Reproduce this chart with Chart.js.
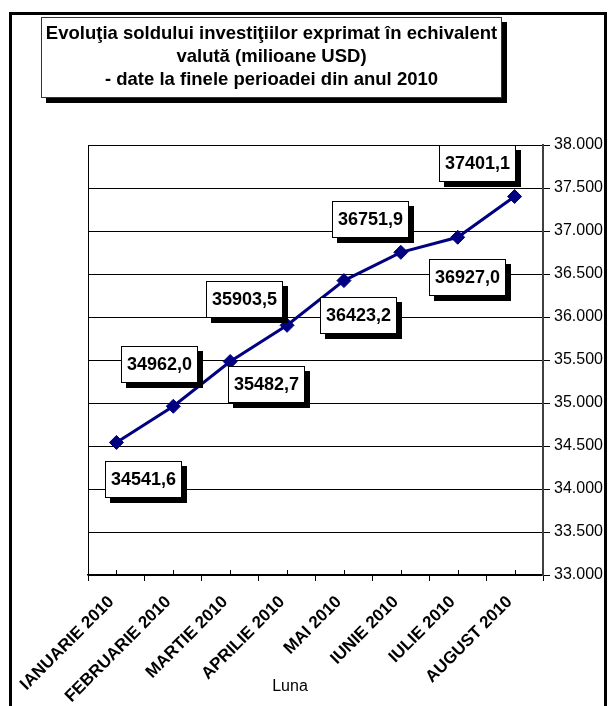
<!DOCTYPE html>
<html>
<head>
<meta charset="utf-8">
<title>Evolutia soldului investitiilor</title>
<script src="https://cdn.jsdelivr.net/npm/chart.js@4/dist/chart.umd.min.js"></script>
<style>
  html, body { margin: 0; padding: 0; background: #fff; }
  #wrap { width: 608px; height: 706px; }
</style>
</head>
<body>
<div id="wrap"><canvas id="soldChart" width="608" height="706"></canvas></div>
<script>
// Date grafic
const luni = ['IANUARIE 2010', 'FEBRUARIE 2010', 'MARTIE 2010', 'APRILIE 2010',
              'MAI 2010', 'IUNIE 2010', 'IULIE 2010', 'AUGUST 2010'];
const soldInvestitii = [34541.6, 34962.0, 35482.7, 35903.5, 36423.2, 36751.9, 36927.0, 37401.1];
const yTicks = [33000, 33500, 34000, 34500, 35000, 35500, 36000, 36500, 37000, 37500, 38000];
const titleLines = [
    'Evoluţia soldului investiţiilor exprimat în echivalent',
    'valută (milioane USD)',
    '- date la finele perioadei din anul 2010'
];
const xAxisTitle = 'Luna';

// pozitia casutelor cu valori fata de punct (dx, dy)
const labelOffsets = [[27, 37], [-14, -42], [36, 23], [-43, -26], [15, 35], [-30, -33], [10, 40], [-37, -33]];

const FONT = 'Arial, "Liberation Sans", sans-serif';

function formatThousands(v) {
    return String(v).replace(/\B(?=(\d{3})+(?!\d))/g, '.');
}

function formatValue(v) {
    return v.toFixed(1).replace('.', ',');
}

// rama exterioara + fundal
const framePlugin = {
    id: 'frame',
    beforeDraw(chart) {
        const ctx = chart.ctx;
        ctx.save();
        ctx.fillStyle = '#fff';
        ctx.fillRect(0, 0, chart.width, chart.height);
        ctx.strokeStyle = '#000';
        ctx.lineWidth = 3;
        ctx.strokeRect(10.5, 13.5, 595, 760);
        ctx.restore();
    },
    afterDraw(chart) {
        const ctx = chart.ctx;
        const area = chart.chartArea;
        const xScale = chart.scales.x;
        ctx.save();
        // linia din stanga a zonei de grafic
        ctx.strokeStyle = '#000';
        ctx.lineWidth = 1;
        ctx.beginPath();
        ctx.moveTo(area.left + 0.5, area.top);
        ctx.lineTo(area.left + 0.5, area.bottom);
        ctx.stroke();
        // gradatii mici in sus la mijlocul categoriilor
        luni.forEach((l, i) => {
            const x = Math.round(xScale.getPixelForValue(i)) + 0.5;
            ctx.beginPath();
            ctx.moveTo(x, area.bottom - 5);
            ctx.lineTo(x, area.bottom);
            ctx.stroke();
        });
        // titlul axei X
        ctx.fillStyle = '#000';
        ctx.font = '16px ' + FONT;
        ctx.textAlign = 'center';
        ctx.textBaseline = 'middle';
        ctx.fillText(xAxisTitle, 290, 687);

        // caseta titlului cu umbra
        const bx = 41, by = 17, bw = 461, bh = 81;
        ctx.fillStyle = '#000';
        ctx.fillRect(bx + 5, by + 5, bw, bh);
        ctx.fillStyle = '#fff';
        ctx.fillRect(bx, by, bw, bh);
        ctx.strokeStyle = '#333';
        ctx.strokeRect(bx + 0.5, by + 0.5, bw - 1, bh - 1);
        ctx.fillStyle = '#000';
        ctx.font = 'bold 18.5px ' + FONT;
        titleLines.forEach((t, i) => {
            ctx.fillText(t, bx + bw / 2, by + 17 + i * 23);
        });
        ctx.restore();
    }
};

// casute cu valorile punctelor
const valueBoxPlugin = {
    id: 'valueBoxes',
    afterDatasetsDraw(chart) {
        const ctx = chart.ctx;
        const meta = chart.getDatasetMeta(0);
        ctx.save();
        ctx.font = 'bold 18px ' + FONT;
        ctx.textAlign = 'center';
        ctx.textBaseline = 'middle';
        meta.data.forEach((pt, i) => {
            const txt = formatValue(soldInvestitii[i]);
            const cx = pt.x + labelOffsets[i][0];
            const cy = pt.y + labelOffsets[i][1];
            const w = Math.round(ctx.measureText(txt).width + 12);
            const h = 37;
            const x0 = Math.round(cx - w / 2), y0 = Math.round(cy - h / 2);
            ctx.fillStyle = '#000';
            ctx.fillRect(x0 + 5, y0 + 5, w, h);
            ctx.fillStyle = '#fff';
            ctx.fillRect(x0, y0, w, h);
            ctx.strokeStyle = '#000';
            ctx.lineWidth = 1;
            ctx.strokeRect(x0 + 0.5, y0 + 0.5, w - 1, h - 1);
            ctx.fillStyle = '#000';
            ctx.fillText(txt, x0 + w / 2, y0 + h / 2 + 1);
        });
        ctx.restore();
    }
};

const ctx = document.getElementById('soldChart').getContext('2d');
const soldChart = new Chart(ctx, {
    type: 'line',
    data: {
        labels: luni,
        datasets: [{
            label: 'Sold investitii',
            data: soldInvestitii,
            borderColor: '#000080',
            backgroundColor: '#000080',
            borderWidth: 3,
            tension: 0,
            pointStyle: 'rectRot',
            pointRadius: 7,
            pointBackgroundColor: '#000080',
            pointBorderColor: '#000080',
            pointBorderWidth: 1
        }]
    },
    options: {
        responsive: false,
        animation: false,
        devicePixelRatio: 1,
        layout: {
            autoPadding: false,
            padding: { left: 88, top: 145, right: 0, bottom: 0 }
        },
        plugins: {
            legend: { display: false },
            title: { display: false },
            tooltip: { enabled: false }
        },
        scales: {
            x: {
                type: 'category',
                offset: true,
                grid: {
                    offset: true,
                    drawOnChartArea: false,
                    drawTicks: true,
                    tickLength: 6,
                    color: '#000',
                    lineWidth: 1
                },
                border: { color: '#000', width: 1.5 },
                ticks: {
                    autoSkip: false,
                    maxRotation: 45,
                    minRotation: 45,
                    padding: 11,
                    labelOffset: -5,
                    color: '#000',
                    font: { family: FONT, size: 17, weight: 'bold' }
                },
                afterFit(scale) { scale.height = 131; }
            },
            y: {
                position: 'right',
                min: 33000,
                max: 38000,
                afterBuildTicks(scale) {
                    scale.ticks = yTicks.map(v => ({ value: v }));
                },
                grid: {
                    color: '#000',
                    lineWidth: 1,
                    tickLength: 7
                },
                border: { color: '#404040', width: 2 },
                ticks: {
                    padding: 4,
                    color: '#000',
                    font: { family: FONT, size: 16 },
                    callback: v => formatThousands(v)
                },
                afterFit(scale) { scale.width = 65; }
            }
        }
    },
    plugins: [framePlugin, valueBoxPlugin]
});
</script>
</body>
</html>
